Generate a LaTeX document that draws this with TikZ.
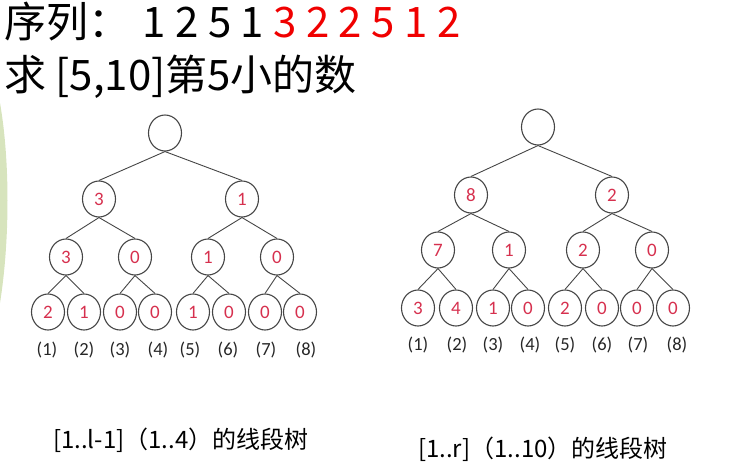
\documentclass[tikz,border=0pt]{standalone}
\usepackage{fontspec}
\setmainfont{Carlito}
\newfontfamily\cjk{Noto Sans CJK SC}
\usetikzlibrary{shapes.geometric}
\definecolor{nodered}{RGB}{214,48,78}
\definecolor{edgegray}{RGB}{70,70,70}
\definecolor{slidegreen}{RGB}{215,228,189}
\definecolor{titlered}{RGB}{240,0,0}
\begin{document}
\begin{tikzpicture}[x=1pt,y=-1pt,
  tnode/.style={ellipse, draw=edgegray, line width=1.1pt, minimum width=33pt, minimum height=36pt, inner sep=0pt, text=nodered, font=\fontsize{19}{19}\selectfont},
  edge/.style={draw=edgegray, line width=0.9pt},
  idx/.style={inner sep=0pt, text=black!85, font=\fontsize{18.5}{18.5}\selectfont},
  title/.style={anchor=base west, inner sep=0pt, font=\cjk\fontsize{42}{42}\selectfont},
  caption/.style={anchor=base west, inner sep=0pt, font=\cjk\fontsize{24}{24}\selectfont}]
\useasboundingbox (0,0) rectangle (729,474);
\fill[slidegreen] (0,103) .. controls (10,160) and (10,240) .. (0,303) -- cycle;

\node[title] (t1) at (4,37) {序列：\hspace{3pt} 1 2 5 1 \textcolor{titlered}{3 2 2 5 1 2}};
\node[title] (t2) at (4,90) {求 [5,10]第5小的数};

% left tree
\node[tnode] (A) at (165,133) {};
\node[tnode] (A1) at (99,199) {3};
\node[tnode] (A2) at (242,199) {1};
\node[tnode] (A11) at (66,257) {3};
\node[tnode] (A12) at (135,257) {0};
\node[tnode] (A21) at (208,257) {1};
\node[tnode] (A22) at (277,257) {0};
\node[tnode] (A111) at (48,312) {2};
\node[tnode] (A112) at (84,312) {1};
\node[tnode] (A121) at (120,312) {0};
\node[tnode] (A122) at (155,312) {0};
\node[tnode] (A211) at (193,312) {1};
\node[tnode] (A212) at (229,312) {0};
\node[tnode] (A221) at (265,312) {0};
\node[tnode] (A222) at (300,312) {0};
\foreach \p/\c in {A/A1,A/A2,A1/A11,A1/A12,A2/A21,A2/A22,A11/A111,A11/A112,A12/A121,A12/A122,A21/A211,A21/A212,A22/A221,A22/A222}
  \draw[edge] (\p.south) -- (\c.north);
\node[idx] (la1) at (47,350) {(1)};
\node[idx] (la2) at (84,350) {(2)};
\node[idx] (la3) at (120,350) {(3)};
\node[idx] (la4) at (158,350) {(4)};
\node[idx] (la5) at (190,350) {(5)};
\node[idx] (la6) at (228,350) {(6)};
\node[idx] (la7) at (266,350) {(7)};
\node[idx] (la8) at (306,350) {(8)};

% right tree
\node[tnode] (B) at (538,127) {};
\node[tnode] (B1) at (471,195) {8};
\node[tnode] (B2) at (612,195) {2};
\node[tnode] (B11) at (438,250) {7};
\node[tnode] (B12) at (509,250) {1};
\node[tnode] (B21) at (583,250) {2};
\node[tnode] (B22) at (652,250) {0};
\node[tnode] (B111) at (418,308) {3};
\node[tnode] (B112) at (456,308) {4};
\node[tnode] (B121) at (493,308) {1};
\node[tnode] (B122) at (528,308) {0};
\node[tnode] (B211) at (565,308) {2};
\node[tnode] (B212) at (602,308) {0};
\node[tnode] (B221) at (637,308) {0};
\node[tnode] (B222) at (673,308) {0};
\foreach \p/\c in {B/B1,B/B2,B1/B11,B1/B12,B2/B21,B2/B22,B11/B111,B11/B112,B12/B121,B12/B122,B21/B211,B21/B212,B22/B221,B22/B222}
  \draw[edge] (\p.south) -- (\c.north);
\node[idx] (lb1) at (418,345) {(1)};
\node[idx] (lb2) at (457,345) {(2)};
\node[idx] (lb3) at (493,345) {(3)};
\node[idx] (lb4) at (530,345) {(4)};
\node[idx] (lb5) at (565,345) {(5)};
\node[idx] (lb6) at (602,345) {(6)};
\node[idx] (lb7) at (638,345) {(7)};
\node[idx] (lb8) at (677,345) {(8)};

\node[caption] (c1) at (53,448) {[1..l-1]（1..4）的线段树};
\node[caption] (c2) at (418,457) {[1..r]（1..10）的线段树};
\end{tikzpicture}
\end{document}
